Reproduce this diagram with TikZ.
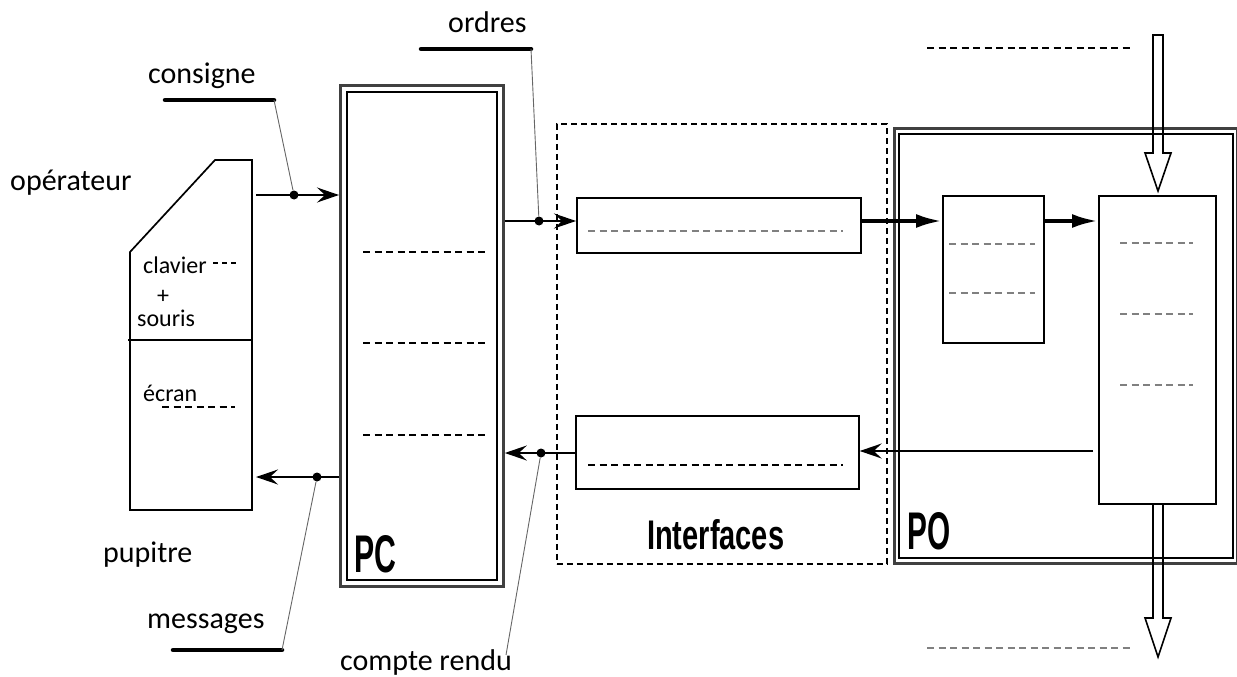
\documentclass[tikz,border=0pt]{standalone}
\usepackage{fontspec}
\usepackage{graphicx}
\setmainfont{Carlito}
\newfontfamily\condfont{Liberation Sans}
\usetikzlibrary{arrows.meta}
\begin{document}
\begin{tikzpicture}[x=1pt,y=-1pt,
  lbl/.style={font=\fontsize{30}{36}\selectfont, inner sep=0, anchor=base west},
  smalllbl/.style={font=\fontsize{24}{28}\selectfont, inner sep=0, anchor=base west},
  bigtxt/.style={inner sep=0, anchor=south west},
  box/.style={draw, line width=1.7pt, rectangle, inner sep=0, anchor=north west},
  outerbox/.style={draw=black!75, line width=2.8pt, rectangle, inner sep=0, anchor=north west},
  innerbox/.style={draw, line width=1.8pt, rectangle, inner sep=0, anchor=north west},
  dashbox/.style={draw, line width=1.8pt, dash pattern=on 6pt off 4pt, rectangle, inner sep=0, anchor=north west},
  blackdash/.style={line width=1.6pt, dash pattern=on 7pt off 4.5pt},
  graydash/.style={line width=1.9pt, gray, dash pattern=on 7pt off 4.5pt},
  thinarr/.style={line width=1.9pt, -{Stealth[length=22pt,width=15pt,inset=8pt]}},
  thickarr/.style={line width=4pt, -{Latex[length=26pt,width=14pt]}},
  leader/.style={line width=0.9pt, black!60},
  underbar/.style={line width=4.5pt, line cap=round},
  dot/.style={circle, fill, inner sep=0, minimum size=9pt},
  hollow/.style={draw, line width=1.6pt, line join=miter}
]
\useasboundingbox (0,0) rectangle (1237,677);

% ---------- pupitre ----------
\draw[line width=1.7pt] (215,160) -- (252,160) -- (252,510) -- (130,510) -- (130,252) -- cycle;
\draw[line width=1.7pt] (128,340) -- (252,340);
\node[lbl] (operateur) at (10,190) {opérateur};
\node[smalllbl] (clavier) at (143,273) {clavier};
\draw[blackdash, line width=1.2pt, dash pattern=on 5pt off 4pt] (213,263) -- (236,263);
\node[smalllbl, anchor=base] (plus) at (163,303) {+};
\node[smalllbl] (souris) at (137,326) {souris};
\node[smalllbl] (ecran) at (143,401) {écran};
\draw[blackdash] (162,407) -- (235,407);
\node[lbl] (pupitre) at (103,562) {pupitre};
\coordinate (pupin) at (256,195);
\coordinate (pupout) at (256,477);

% ---------- PC ----------
\node[outerbox, minimum width=163pt, minimum height=501pt] (pc) at (339,84) {};
\node[innerbox, minimum width=150pt, minimum height=488pt] (pcin) at (346,91) {};
\draw[blackdash] (363,252) -- (487,252);
\draw[blackdash] (363,343) -- (487,343);
\draw[blackdash] (363,435) -- (487,435);
\node[bigtxt] (pclabel) at (354,573) {\resizebox{42pt}{37pt}{\condfont\bfseries PC}};

% ---------- Interfaces ----------
\node[dashbox, minimum width=330pt, minimum height=440pt] (interf) at (556,123) {};
\node[box, minimum width=284pt, minimum height=55pt] (ordbox) at (576,197) {};
\draw[graydash] (588,231) -- (843,231);
\node[box, minimum width=283pt, minimum height=73pt] (crbox) at (575,415) {};
\draw[blackdash] (588,465) -- (843,465);
\node[bigtxt] (interflabel) at (647,550) {\resizebox{137pt}{30pt}{\condfont\bfseries Interfaces}};

% ---------- PO ----------
\node[outerbox, minimum width=343pt, minimum height=435pt] (po) at (893,127) {};
\node[innerbox, minimum width=334pt, minimum height=424pt] (poin) at (898,133) {};
\node[box, minimum width=101pt, minimum height=147pt] (pre) at (942,195) {};
\draw[graydash] (949,244) -- (1035,244);
\draw[graydash] (949,293) -- (1035,293);
\node[box, minimum width=117pt, minimum height=308pt] (proc) at (1098,195) {};
\draw[graydash] (1120,243) -- (1193,243);
\draw[graydash] (1120,314) -- (1193,314);
\draw[graydash] (1120,385) -- (1193,385);
\node[bigtxt] (polabel) at (907,550) {\resizebox{43pt}{37pt}{\condfont\bfseries PO}};

% flows in/out of PO
\draw[hollow] (1153,35) -- (1163,35) -- (1163,153) -- (1171,153) -- (1158,191) -- (1145,153) -- (1153,153) -- cycle;
\draw[hollow] (1153,503) -- (1153,618) -- (1145,618) -- (1158,657) -- (1171,618) -- (1163,618) -- (1163,503);
\draw[blackdash] (927,48) -- (1130,48);
\draw[graydash, line width=1.6pt] (927,648) -- (1130,648);

% ---------- connectors ----------
\coordinate (yord) at (0,221);
\coordinate (ycr) at (0,451);
\coordinate (ycr2) at (0,453);
\draw[thinarr] (pupin) -- (pc.west |- pupin);
\draw[thinarr] (pc.west |- pupout) -- (pupout);
\draw[thinarr] (pc.east |- yord) -- (ordbox.west |- yord);
\draw[thinarr] (crbox.west |- ycr2) -- (pc.east |- ycr2);
\draw[thickarr] (ordbox.east |- yord) -- (pre.west |- yord);
\draw[thickarr] (pre.east |- yord) -- (proc.west |- yord);
\draw[thinarr] ([xshift=-5pt]proc.west |- ycr) -- (crbox.east |- ycr);

% dots and labels with leaders
\node[dot] (dcons) at (294,195) {};
\node[dot] (dmsg) at (317,477) {};
\node[dot] (dord) at (539,221) {};
\node[dot] (dcr) at (541,453) {};

\node[lbl] (consigne) at (148,84) {consigne};
\coordinate (cons1) at (165,100);
\coordinate (cons2) at (274,100);
\draw[underbar] (cons1) -- (cons2);
\draw[leader] (cons2) -- (dcons);

\node[lbl] (ordres) at (448,33) {ordres};
\coordinate (ord1) at (421,49);
\coordinate (ord2) at (531,49);
\draw[underbar] (ord1) -- (ord2);
\draw[leader] (ord2) -- (dord);

\node[lbl] (messages) at (147,628) {messages};
\coordinate (msg1) at (173,650);
\coordinate (msg2) at (282,650);
\draw[underbar] (msg1) -- (msg2);
\draw[leader] (msg2) -- (dmsg);

\node[lbl] (compterendu) at (340,670) {compte rendu};
\coordinate (cr1) at (506,655);
\draw[leader] (cr1) -- (dcr);
\end{tikzpicture}
\end{document}
